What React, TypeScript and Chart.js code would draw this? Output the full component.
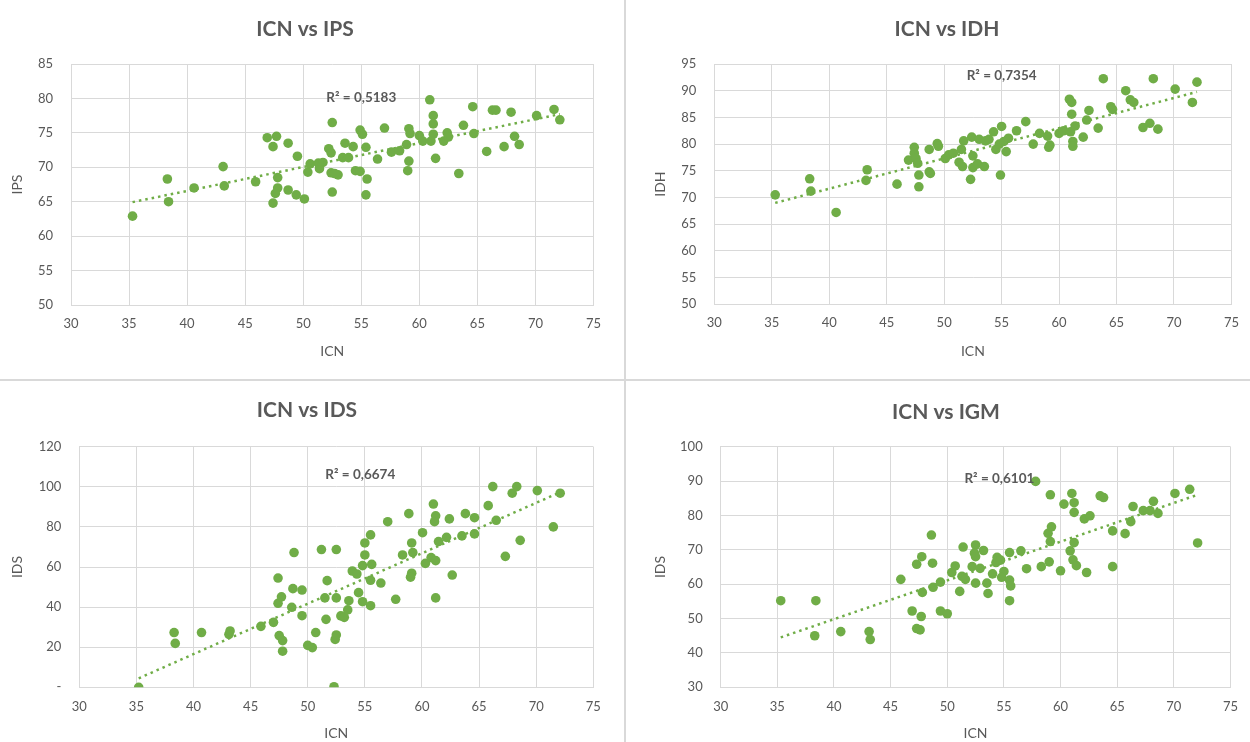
import React, { useEffect, useRef } from 'react';
import { Chart, registerables } from 'chart.js';

Chart.register(...registerables);

// ICN vs IPS
const icnIps = [35.3, 38.3, 38.4, 40.6, 43.1, 43.2, 45.9, 46.9, 47.7, 47.4, 48.7, 49.5, 47.8, 47.8, 47.6, 47.4, 48.7, 49.4, 50.1, 50.4, 50.6, 51.3, 51.7, 51.4, 52.5, 52.2, 52.4, 52.4, 52.5, 53.0, 52.7, 53.6, 54.3, 53.4, 53.9, 54.5, 54.9, 54.9, 55.1, 55.4, 55.5, 55.4, 56.4, 57.0, 57.6, 58.3, 58.9, 59.1, 59.2, 59.1, 59.0, 60.0, 60.3, 60.9, 61.2, 61.2, 61.2, 61.0, 61.4, 62.1, 62.4, 62.5, 63.4, 63.8, 64.6, 64.7, 65.8, 66.3, 66.6, 67.3, 67.9, 68.2, 68.6, 70.1, 71.6, 72.1];
const ips = [62.9, 68.3, 65.0, 67.0, 70.1, 67.3, 67.9, 74.3, 74.5, 73.0, 73.5, 71.6, 68.5, 67.0, 66.2, 64.8, 66.7, 66.0, 65.4, 69.3, 70.5, 70.6, 70.7, 69.8, 76.5, 72.7, 72.1, 69.2, 66.4, 68.9, 69.1, 73.5, 73.0, 71.4, 71.4, 69.5, 69.4, 75.4, 74.8, 72.9, 68.3, 66.0, 71.2, 75.7, 72.2, 72.4, 73.3, 75.6, 74.9, 70.9, 69.5, 74.6, 73.8, 79.8, 77.5, 76.3, 74.8, 73.8, 71.3, 73.8, 75.0, 74.4, 69.1, 76.1, 78.8, 74.9, 72.3, 78.3, 78.3, 73.0, 78.0, 74.5, 73.3, 77.5, 78.4, 76.9];

// ICN vs IDH
const icnIdh = [35.3, 38.3, 38.4, 40.6, 43.3, 43.2, 45.9, 46.9, 47.4, 47.4, 47.55, 47.7, 47.8, 47.8, 48.7, 48.7, 48.8, 49.4, 49.5, 50.1, 50.4, 50.8, 51.3, 51.6, 51.5, 51.7, 52.4, 52.5, 52.5, 52.9, 53.5, 52.3, 53.05, 53.6, 53.9, 54.3, 55.0, 54.5, 54.8, 55.2, 55.6, 55.4, 54.9, 56.3, 57.1, 57.75, 58.3, 59.0, 59.1, 59.2, 60.0, 60.4, 60.9, 61.1, 61.0, 61.1, 61.2, 61.2, 61.4, 62.1, 62.4, 62.6, 63.4, 63.85, 64.5, 64.65, 65.8, 66.2, 66.5, 67.3, 67.9, 68.2, 68.6, 70.1, 71.6, 72.0];
const idh = [70.5, 73.5, 71.2, 67.2, 75.2, 73.2, 72.5, 77.0, 79.4, 78.3, 77.3, 76.4, 74.2, 72.0, 79.0, 74.8, 74.5, 80.1, 79.6, 77.3, 78.0, 78.3, 76.6, 75.8, 79.0, 80.6, 81.3, 77.8, 75.6, 76.3, 75.8, 73.4, 80.9, 80.6, 80.9, 82.3, 83.3, 79.0, 80.0, 80.5, 81.1, 78.6, 74.2, 82.5, 84.2, 80.0, 82.0, 81.5, 79.4, 79.8, 82.0, 82.5, 88.4, 87.8, 82.3, 85.6, 80.5, 79.6, 83.4, 81.3, 84.5, 86.3, 83.0, 92.25, 87.0, 86.5, 90.0, 88.3, 87.8, 83.1, 83.9, 92.25, 82.8, 90.3, 87.8, 91.6];

// ICN vs IDS
const icnIds = [35.2, 38.3, 38.4, 40.7, 43.1, 43.2, 45.9, 47.0, 47.4, 47.4, 47.7, 47.5, 47.8, 47.8, 48.8, 48.7, 48.6, 49.5, 49.5, 50.0, 50.4, 50.7, 51.2, 51.7, 51.5, 51.6, 52.5, 52.5, 52.3, 52.5, 52.4, 52.9, 53.2, 53.5, 53.6, 53.9, 54.3, 54.45, 54.8, 54.8, 55.0, 55.0, 55.5, 55.6, 55.5, 55.5, 56.4, 57.0, 57.7, 58.3, 58.85, 59.1, 59.2, 59.1, 59.0, 60.05, 60.3, 60.8, 61.0, 61.2, 61.1, 61.2, 61.2, 61.45, 62.15, 62.4, 62.65, 63.5, 63.8, 64.6, 64.6, 65.8, 66.2, 66.5, 67.3, 67.9, 68.3, 68.6, 70.1, 71.5, 72.1];
const ids = [0, 27.3, 21.9, 27.3, 26.4, 28.1, 30.4, 32.4, 54.5, 41.9, 45.1, 25.8, 23.3, 18.0, 67.2, 49.2, 39.9, 48.5, 35.7, 20.9, 19.8, 27.3, 68.7, 53.2, 44.6, 33.9, 68.7, 44.6, 0.3, 26.1, 23.9, 35.6, 34.9, 38.6, 43.2, 58.0, 56.5, 47.2, 42.7, 60.7, 66.0, 72.0, 76.0, 61.3, 53.4, 40.7, 52.0, 82.6, 43.9, 66.0, 86.6, 72.0, 67.2, 56.9, 54.9, 77.1, 61.8, 64.7, 91.4, 85.5, 82.6, 63.2, 44.6, 72.7, 74.8, 84.0, 56.0, 75.5, 86.6, 84.6, 76.5, 90.6, 100.1, 83.3, 65.3, 96.8, 100.1, 73.3, 98.1, 80.0, 96.8];

// ICN vs IGM
const icnIgm = [35.3, 38.4, 38.3, 40.6, 43.1, 43.2, 45.9, 46.9, 47.3, 47.3, 47.6, 47.75, 47.8, 47.7, 48.6, 48.7, 48.75, 49.4, 49.4, 50.0, 50.4, 50.7, 51.4, 51.3, 51.1, 51.6, 52.5, 52.4, 52.5, 52.2, 52.9, 53.2, 52.5, 53.5, 53.6, 54.0, 54.3, 54.4, 54.7, 55.0, 54.8, 55.5, 55.5, 55.6, 55.5, 56.5, 57.0, 57.8, 58.3, 59.0, 58.9, 59.2, 59.1, 59.1, 60.0, 60.3, 60.85, 61.0, 61.2, 61.2, 61.2, 61.1, 61.4, 62.1, 62.6, 62.3, 63.5, 63.8, 64.6, 64.6, 65.7, 66.2, 66.4, 67.3, 67.9, 68.2, 68.6, 70.1, 71.4, 72.1];
const igm = [55.2, 55.2, 45.0, 46.2, 46.2, 43.9, 61.4, 52.2, 65.8, 47.1, 46.7, 68.0, 57.6, 50.6, 74.3, 66.1, 59.1, 60.6, 52.2, 51.4, 63.4, 65.3, 70.8, 62.3, 57.9, 61.4, 71.4, 69.0, 68.0, 65.1, 64.6, 69.8, 60.3, 60.3, 57.3, 63.0, 66.3, 67.8, 67.0, 63.7, 62.0, 69.2, 61.2, 59.5, 55.2, 69.7, 64.5, 89.9, 65.1, 66.5, 74.8, 76.7, 72.4, 86.0, 63.9, 83.3, 69.7, 86.4, 83.7, 80.9, 72.1, 67.1, 65.4, 79.0, 79.9, 63.4, 85.7, 85.2, 75.5, 65.1, 74.7, 78.2, 82.6, 81.4, 81.4, 84.1, 80.6, 86.4, 87.6, 72.0];

// axis ranges: [min, max, step]
const icnAxis = [30, 75, 5];
const ipsAxis = [50, 85, 5];
const idhAxis = [50, 95, 5];
const idsAxis = [0, 120, 20];
const igmAxis = [30, 100, 10];

const titles = ['ICN vs IPS', 'ICN vs IDH', 'ICN vs IDS', 'ICN vs IGM'];
const yTitles = ['IPS', 'IDH', 'IDS', 'IDS'];
const r2Labels = ['R² = 0,5183', 'R² = 0,7354', 'R² = 0,6674', 'R² = 0,6101'];
// where each R² label sits, in data units
const r2Anchors = [[55.0, 80.06], [55.0, 92.75], [54.6, 105.9], [54.6, 90.6]];

const GREEN = '#70ad47';
const TEXT = '#595959';
const GRID = '#d9d9d9';
const FONT = 'Lato, "Open Sans", sans-serif';

function trend(xs: number[], ys: number[]) {
  const n = xs.length;
  let sx = 0, sy = 0, sxx = 0, sxy = 0;
  for (let i = 0; i < n; i++) {
    sx += xs[i]; sy += ys[i]; sxx += xs[i] * xs[i]; sxy += xs[i] * ys[i];
  }
  const b = (n * sxy - sx * sy) / (n * sxx - sx * sx);
  const a = (sy - b * sx) / n;
  const lo = Math.min(...xs);
  const hi = Math.max(...xs);
  return [{ x: lo, y: a + b * lo }, { x: hi, y: a + b * hi }];
}

const panelText = {
  id: 'panelText',
  afterDatasetsDraw(chart: any, _args: any, opts: any) {
    const ctx = chart.ctx;
    ctx.save();
    ctx.fillStyle = TEXT;
    ctx.textAlign = 'center';
    ctx.textBaseline = 'middle';
    ctx.font = `bold 21px ${FONT}`;
    ctx.fillText(opts.title, opts.titleX, opts.titleY);
    ctx.font = `bold 13.5px ${FONT}`;
    const px = chart.scales.x.getPixelForValue(opts.r2At[0]);
    const py = chart.scales.y.getPixelForValue(opts.r2At[1]);
    ctx.fillText(opts.r2, px, py);
    ctx.restore();
  },
};

type PanelProps = {
  xs: number[];
  ys: number[];
  yAxis: number[];
  idx: number;
  box: { left: number; top: number; w: number; h: number };
  pad: { left: number; top: number; right: number };
  yW: number;
  xH: number;
  titleX: number;
  titleY: number;
  xTitlePad: number;
  xTickPad: number;
  zeroDash?: boolean;
};

function Panel(p: PanelProps) {
  const ref = useRef<HTMLCanvasElement | null>(null);
  useEffect(() => {
    if (!ref.current) return;
    const pts = p.xs.map((x, i) => ({ x, y: p.ys[i] }));
    const tickFont = { family: FONT, size: 13 };
    const titleFont = { family: FONT, size: 14 };
    const chart = new Chart(ref.current, {
      type: 'scatter',
      data: {
        datasets: [
          {
            type: 'line',
            data: trend(p.xs, p.ys),
            borderColor: GREEN,
            borderWidth: 2.5,
            borderDash: [2.5, 4],
            pointRadius: 0,
            fill: false,
            order: 0,
          } as any,
          {
            data: pts,
            backgroundColor: GREEN,
            borderColor: GREEN,
            borderWidth: 0,
            pointRadius: 4.8,
            order: 1,
          },
        ],
      },
      options: {
        animation: false,
        responsive: false,
        events: [],
        layout: { padding: { left: p.pad.left, top: p.pad.top, right: p.pad.right, bottom: 0 } },
        plugins: {
          legend: { display: false },
          tooltip: { enabled: false },
          panelText: {
            title: titles[p.idx],
            titleX: p.titleX,
            titleY: p.titleY,
            r2: r2Labels[p.idx],
            r2At: r2Anchors[p.idx],
          },
        } as any,
        scales: {
          x: {
            type: 'linear',
            min: icnAxis[0],
            max: icnAxis[1],
            ticks: { stepSize: icnAxis[2], color: TEXT, font: tickFont, padding: p.xTickPad },
            grid: { color: GRID, drawTicks: false, lineWidth: 1 },
            border: { color: GRID },
            title: { display: true, text: 'ICN', color: TEXT, font: titleFont, padding: { top: 0, bottom: p.xTitlePad } },
            afterFit: (s: any) => { s.height = p.xH; },
          },
          y: {
            type: 'linear',
            min: p.yAxis[0],
            max: p.yAxis[1],
            ticks: {
              stepSize: p.yAxis[2],
              color: TEXT,
              font: tickFont,
              padding: 18,
              callback: (v: any) => (p.zeroDash && Number(v) === 0 ? '-' : String(v)),
            },
            grid: { color: GRID, drawTicks: false, lineWidth: 1 },
            border: { color: GRID },
            title: { display: true, text: yTitles[p.idx], color: TEXT, font: titleFont, padding: { top: 9, bottom: 0 } },
            afterFit: (s: any) => { s.width = p.yW; },
          },
        },
      },
      plugins: [panelText],
    });
    return () => chart.destroy();
  }, []);
  return (
    <canvas
      ref={ref}
      width={p.box.w}
      height={p.box.h}
      style={{ position: 'absolute', left: p.box.left, top: p.box.top, width: p.box.w, height: p.box.h }}
    />
  );
}

export default function App() {
  return (
    <div style={{ position: 'fixed', left: 0, top: 0, width: 1250, height: 742, background: '#fff', overflow: 'hidden' }}>
      <Panel
        idx={0} xs={icnIps} ys={ips} yAxis={ipsAxis}
        box={{ left: 0, top: 0, w: 624, h: 379 }}
        pad={{ left: 0, top: 64, right: 30.5 }}
        yW={71} xH={74} titleX={305} titleY={29} xTitlePad={19} xTickPad={11}
      />
      <Panel
        idx={1} xs={icnIdh} ys={idh} yAxis={idhAxis}
        box={{ left: 626, top: 0, w: 624, h: 379 }}
        pad={{ left: 17.3, top: 64, right: 13 }}
        yW={71} xH={74.7} titleX={321} titleY={29} xTitlePad={19} xTickPad={11}
      />
      <Panel
        idx={2} xs={icnIds} ys={ids} yAxis={idsAxis} zeroDash
        box={{ left: 0, top: 381, w: 624, h: 361 }}
        pad={{ left: 0, top: 65.7, right: 30.7 }}
        yW={79.3} xH={54.7} titleX={307} titleY={29} xTitlePad={0} xTickPad={12}
      />
      <Panel
        idx={3} xs={icnIgm} ys={igm} yAxis={igmAxis}
        box={{ left: 626, top: 381, w: 624, h: 361 }}
        pad={{ left: 17.3, top: 65.7, right: 14.3 }}
        yW={77.4} xH={54.7} titleX={320} titleY={31} xTitlePad={0} xTickPad={12}
      />
      <div style={{ position: 'absolute', left: 624, top: 0, width: 2, height: 742, background: GRID }} />
      <div style={{ position: 'absolute', left: 0, top: 379, width: 1250, height: 2, background: GRID }} />
    </div>
  );
}
